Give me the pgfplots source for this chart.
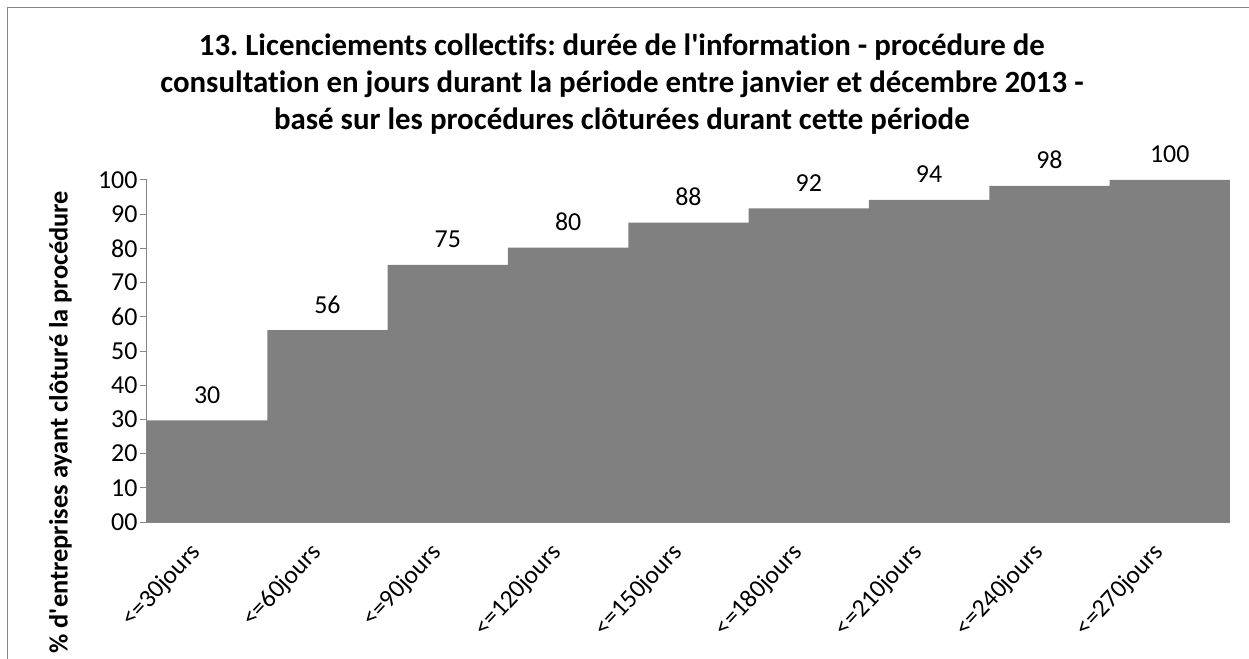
\documentclass[border=0pt]{standalone}
\usepackage{pgfplots}
\pgfplotsset{compat=1.18}
\usepackage{pgfplotstable}
\usepackage{fontspec}
\setmainfont{Carlito}[Ligatures={TeXOff,CommonOff}]
\frenchspacing
\definecolor{barc}{HTML}{808080}
\definecolor{axc}{HTML}{868686}
\pgfplotstableread{
x y lab
0 29.7 30
1 56.1 56
2 75.2 75
3 80.2 80
4 87.5 88
5 91.7 92
6 94.2 94
7 98.3 98
8 100 100
}\datatable
\begin{document}
\begin{tikzpicture}
\useasboundingbox (-147bp,-137bp) rectangle (1102bp,522bp);
\begin{axis}[
  at={(0,0)}, anchor=south west,
  scale only axis, width=1083bp, height=342bp,
  ymin=0, ymax=100, xmin=-0.5, xmax=8.5,
  axis y line*=left, axis x line*=bottom,
  axis line style={draw=axc, line width=1bp},
  ytick={0,10,...,100},
  yticklabels={00,10,20,30,40,50,60,70,80,90,100},
  xtick={0,...,8},
  xticklabels={<=30jours,<=60jours,<=90jours,<=120jours,<=150jours,<=180jours,<=210jours,<=240jours,<=270jours},
  tick align=outside,
  major tick length=7bp,
  ytick style={draw=axc, line width=1bp},
  xtick style={draw=none},
  /pgf/number format/assume math mode=true,
  yticklabel style={font=\fontsize{26}{30}\selectfont, xshift=1bp},
  xticklabel style={font=\fontsize{25.5}{30}\selectfont, xshift=-8bp, yshift=-17bp, rotate=47, anchor=east},
  ylabel={\% d'entreprises ayant clôturé la procédure},
  ylabel style={font=\bfseries\fontsize{26.5}{30}\selectfont, at={(axis description cs:-0.080,0.292)}, anchor=center, rotate=0},
  title={13. Licenciements collectifs: durée de l'information - procédure de\\ consultation en jours durant la période entre janvier et décembre 2013 -\\ basé sur les procédures clôturées durant cette période},
  title style={font=\bfseries\fontsize{31}{37}\selectfont, align=center, at={(axis description cs:0.4386,1.42)}, anchor=north},
  ybar, bar width=1,
  nodes near coords,
  point meta=explicit symbolic,
  every node near coord/.append style={font=\fontsize{26}{30}\selectfont, anchor=base, yshift=17bp},
]
\addplot[fill=barc, draw=none] table[x=x, y=y, meta=lab] {\datatable};
\end{axis}
\draw[axc, line width=1bp] (-139bp,-140bp) -- (-139bp,514bp) -- (1105bp,514bp);
\end{tikzpicture}
\end{document}
